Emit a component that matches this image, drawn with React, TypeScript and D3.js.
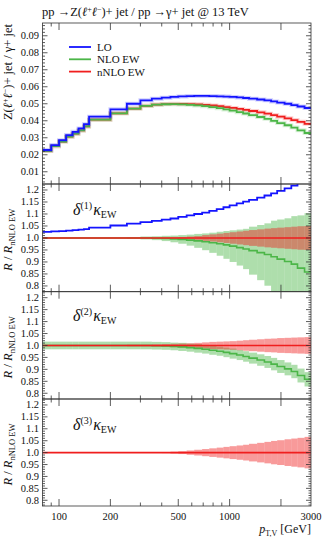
import React from 'react';
import * as d3 from 'd3';

// bin edges in pT,V [GeV]
const edges = [80, 90, 100, 110, 120, 130, 140, 150, 200, 250, 300, 350, 400, 450, 500, 560, 620, 690, 760, 840, 920, 1000, 1100, 1200, 1300, 1450, 1600, 1750, 1900, 2100, 2300, 2500, 2750, 3000];

// Z+jet / gamma+jet ratio per bin
const lo = [0.0228, 0.0257, 0.0286, 0.0316, 0.0335, 0.0355, 0.0380, 0.0424, 0.0467, 0.0500, 0.0520, 0.0530, 0.0536, 0.0540, 0.0543, 0.0545, 0.0546, 0.0546, 0.0545, 0.0544, 0.0542, 0.0540, 0.0537, 0.0534, 0.0530, 0.0525, 0.0520, 0.0514, 0.0507, 0.0500, 0.0492, 0.0484, 0.0475];
const nlo = [0.02224, 0.02502, 0.0278, 0.03065, 0.03243, 0.0343, 0.03664, 0.04065, 0.04439, 0.04717, 0.04878, 0.04944, 0.04971, 0.04975, 0.04961, 0.04937, 0.04904, 0.04858, 0.04799, 0.0474, 0.04666, 0.04592, 0.04506, 0.04426, 0.04331, 0.04221, 0.04113, 0.03996, 0.03866, 0.03737, 0.03599, 0.0344, 0.0328];
const nnlo = [0.02224, 0.02502, 0.0278, 0.03065, 0.03243, 0.0343, 0.03664, 0.04065, 0.04439, 0.04717, 0.04878, 0.04949, 0.04981, 0.04995, 0.04991, 0.04982, 0.04964, 0.04937, 0.04897, 0.04857, 0.04805, 0.04754, 0.04694, 0.04639, 0.04573, 0.04495, 0.04418, 0.04334, 0.04239, 0.04143, 0.04039, 0.03935, 0.03821];

// half-widths of the uncertainty bands in the ratio panels
const band1Nlo = [0.002, 0.002, 0.002, 0.002, 0.002, 0.002, 0.002, 0.002, 0.002, 0.004, 0.006, 0.008, 0.011, 0.014, 0.018, 0.023, 0.029, 0.035, 0.042, 0.05, 0.058, 0.066, 0.075, 0.084, 0.1, 0.115, 0.13, 0.15, 0.165, 0.18, 0.2, 0.22, 0.245];
const band1Nnlo = [0.001, 0.001, 0.001, 0.001, 0.001, 0.001, 0.001, 0.001, 0.001, 0.001, 0.001, 0.001, 0.002, 0.003, 0.004, 0.006, 0.008, 0.012, 0.015, 0.018, 0.021, 0.024, 0.027, 0.03, 0.033, 0.036, 0.039, 0.041, 0.043, 0.045, 0.047, 0.049, 0.05];
const band2Nlo = [0.016, 0.016, 0.016, 0.016, 0.016, 0.016, 0.016, 0.016, 0.016, 0.016, 0.016, 0.016, 0.016, 0.016, 0.017, 0.017, 0.018, 0.018, 0.019, 0.019, 0.02, 0.021, 0.021, 0.022, 0.023, 0.024, 0.025, 0.026, 0.027, 0.027, 0.028, 0.029, 0.03];
const band2Nnlo = [0.003, 0.003, 0.003, 0.003, 0.003, 0.003, 0.003, 0.003, 0.003, 0.004, 0.004, 0.005, 0.006, 0.007, 0.008, 0.009, 0.011, 0.013, 0.015, 0.016, 0.017, 0.018, 0.02, 0.022, 0.024, 0.026, 0.028, 0.029, 0.031, 0.032, 0.033, 0.034, 0.035];
const band3Nnlo = [0.001, 0.001, 0.001, 0.001, 0.001, 0.001, 0.001, 0.001, 0.001, 0.001, 0.001, 0.001, 0.002, 0.004, 0.006, 0.009, 0.012, 0.015, 0.018, 0.021, 0.024, 0.027, 0.03, 0.033, 0.037, 0.041, 0.045, 0.049, 0.052, 0.056, 0.059, 0.062, 0.066];

const mainTicks = [0.01, 0.02, 0.03, 0.04, 0.05, 0.06, 0.07, 0.08, 0.09];
const ratioTicks = [0.8, 0.85, 0.9, 0.95, 1.0, 1.05, 1.1, 1.15, 1.2];
const ratioLabels = ['0.8', '0.85', '0.9', '0.95', '1.0', '1.05', '1.1', '1.15', '1.2'];
const xMajor = [100, 200, 500, 1000, 2000];
const xMinor = [90, 300, 400, 600, 700, 800, 900];
const xLabels = [100, 200, 500, 1000, 3000];

const BLUE = '#1414ff';
const GREEN = '#4cb648';
const RED = '#f01e1e';
const FONT = 'Liberation Serif, serif';

const X0 = 42.5, X1 = 311;
const x = d3.scaleLog().domain([80, 3000]).range([X0, X1]);
const yMain = d3.scaleLinear().domain([0.0028, 0.0975]).range([184, 23]);
const ratioY = (top: number, bot: number) => d3.scaleLinear().domain([0.776, 1.225]).range([bot, top]);

const stepPath = (vals: number[], y: (v: number) => number) => {
  const pts: [number, number][] = vals.map((v, i) => [x(edges[i]), y(v)]);
  pts.push([x(edges[edges.length - 1]), y(vals[vals.length - 1])]);
  return d3.line().curve(d3.curveStepAfter)(pts) || '';
};

function Band({ center, hw, y, color, op }: any) {
  return (
    <g fill={color} fillOpacity={op}>
      {hw.map((h: number, i: number) => {
        const c = center[i];
        return <rect key={i} x={x(edges[i])} width={x(edges[i + 1]) - x(edges[i])}
          y={y(c + h)} height={y(c - h) - y(c + h)} />;
      })}
    </g>
  );
}

function Frame({ top, bot, y, major, minor, labels }: any) {
  const col = '#333';
  return (
    <g stroke={col} strokeWidth={0.8}>
      <rect x={X0} y={top} width={X1 - X0} height={bot - top} fill="none" />
      {xMajor.map(v => <g key={'M' + v}>
        <line x1={x(v)} x2={x(v)} y1={top} y2={top + 7} />
        <line x1={x(v)} x2={x(v)} y1={bot} y2={bot - 7} />
      </g>)}
      {xMinor.map(v => <g key={'m' + v}>
        <line x1={x(v)} x2={x(v)} y1={top} y2={top + 3.5} />
        <line x1={x(v)} x2={x(v)} y1={bot} y2={bot - 3.5} />
      </g>)}
      {major.map((v: number) => <g key={'yM' + v}>
        <line x1={X0} x2={X0 + 5} y1={y(v)} y2={y(v)} />
        <line x1={X1} x2={X1 - 5} y1={y(v)} y2={y(v)} />
      </g>)}
      {minor.map((v: number, i: number) => <g key={'ym' + i}>
        <line x1={X0} x2={X0 + 2.5} y1={y(v)} y2={y(v)} />
        <line x1={X1} x2={X1 - 2.5} y1={y(v)} y2={y(v)} />
      </g>)}
      <g stroke="none" fill="#111" fontFamily={FONT} fontSize={10.5} textAnchor="end">
        {major.map((v: number, i: number) => <text key={'l' + i} x={39} y={y(v)} dy="0.33em">{labels[i]}</text>)}
      </g>
    </g>
  );
}

function DeltaLabel({ n, yb }: { n: number; yb: number }) {
  return (
    <text x={73} y={yb} fontFamily={FONT} fontSize={16} fill="#111">
      <tspan fontStyle="italic">δ</tspan>
      <tspan fontSize={10} dy={-6}>({n})</tspan>
      <tspan fontStyle="italic" dy={6} dx={1}>κ</tspan>
      <tspan fontSize={10} dy={3}>EW</tspan>
    </text>
  );
}

function RatioYLabel({ top, bot }: { top: number; bot: number }) {
  const cy = (top + bot) / 2 + 2;
  return (
    <text transform={`translate(12,${cy}) rotate(-90)`} textAnchor="middle" fontFamily={FONT} fontSize={12.5} fill="#111">
      <tspan fontStyle="italic">R</tspan> / <tspan fontStyle="italic">R</tspan>
      <tspan fontSize={8.5} dy={2.5}>nNLO EW</tspan>
    </text>
  );
}

export default function App() {
  const P1 = [184, 291.7], P2 = [291.7, 399], P3 = [399, 506];
  const y1 = ratioY(P1[0], P1[1]);
  const y2 = ratioY(P2[0], P2[1]);
  const y3 = ratioY(P3[0], P3[1]);
  const rLo = lo.map((v, i) => v / nnlo[i]);
  const rNlo = nlo.map((v, i) => v / nnlo[i]);
  const ones = nnlo.map(() => 1);

  const mainMinor = d3.range(0.004, 0.0975, 0.002).filter(v => Math.abs(v * 100 - Math.round(v * 100)) > 1e-6);
  const ratioMinor = d3.range(0.78, 1.225, 0.01).filter(v => Math.abs(v * 20 - Math.round(v * 20)) > 1e-6);

  const legend = [['LO', BLUE], ['NLO EW', GREEN], ['nNLO EW', RED]];

  return (
    <svg width={324} height={540} style={{ position: 'absolute', left: 0, top: 0, background: '#fff' }}>
      <defs>
        {[[23, 184], P1, P2, P3].map((p, i) => (
          <clipPath id={'c' + i} key={i}><rect x={X0} y={p[0]} width={X1 - X0} height={p[1] - p[0]} /></clipPath>
        ))}
      </defs>

      <text x={42} y={15.5} fontFamily={FONT} fontSize={12.5} fill="#111">
        pp →Z(<tspan fontStyle="italic">ℓ</tspan><tspan fontSize={8} dy={-4}>+</tspan>
        <tspan fontStyle="italic" dy={4}>ℓ</tspan><tspan fontSize={8} dy={-4}>−</tspan>
        <tspan dy={4}>)+ jet / pp →γ+ jet @ 13 TeV</tspan>
      </text>

      {/* main panel */}
      <g clipPath="url(#c0)" fill="none">
        <path d={stepPath(nnlo, yMain)} stroke={RED} strokeWidth={4} strokeOpacity={0.2} />
        <path d={stepPath(nnlo, yMain)} stroke={RED} strokeWidth={1.8} />
        <path d={stepPath(nlo, yMain)} stroke={GREEN} strokeWidth={4} strokeOpacity={0.2} />
        <path d={stepPath(nlo, yMain)} stroke={GREEN} strokeWidth={1.8} />
        <path d={stepPath(lo, yMain)} stroke={BLUE} strokeWidth={4} strokeOpacity={0.2} />
        <path d={stepPath(lo, yMain)} stroke={BLUE} strokeWidth={1.8} />
      </g>
      <Frame top={23} bot={184} y={yMain} major={mainTicks} minor={mainMinor} labels={mainTicks.map(v => v.toFixed(2))} />
      <text transform="translate(12,24) rotate(-90)" textAnchor="end" fontFamily={FONT} fontSize={12.5} fill="#111">
        Z(<tspan fontStyle="italic">ℓ</tspan><tspan fontSize={8} dy={-4}>+</tspan>
        <tspan fontStyle="italic" dy={4}>ℓ</tspan><tspan fontSize={8} dy={-4}>−</tspan>
        <tspan dy={4}>)+ jet / γ+ jet</tspan>
      </text>
      {legend.map(([name, col], i) => (
        <g key={name}>
          <line x1={69} x2={91} y1={47 + i * 12.3} y2={47 + i * 12.3} stroke={col} strokeWidth={1.8} />
          <text x={97} y={47 + i * 12.3 + 4} fontFamily={FONT} fontSize={11} fill="#111">{name}</text>
        </g>
      ))}

      {/* ratio panel 1 */}
      <g clipPath="url(#c1)" fill="none">
        <Band center={rNlo} hw={band1Nlo} y={y1} color={GREEN} op={0.45} />
        <Band center={ones} hw={band1Nnlo} y={y1} color={RED} op={0.45} />
        <path d={stepPath(rNlo, y1)} stroke={GREEN} strokeWidth={1.6} />
        <path d={stepPath(ones, y1)} stroke={RED} strokeWidth={1.6} />
        <path d={stepPath(rLo, y1)} stroke={BLUE} strokeWidth={1.8} />
      </g>
      <Frame top={P1[0]} bot={P1[1]} y={y1} major={ratioTicks} minor={ratioMinor} labels={ratioLabels} />
      <RatioYLabel top={P1[0]} bot={P1[1]} />
      <DeltaLabel n={1} yb={215} />

      {/* ratio panel 2 */}
      <g clipPath="url(#c2)" fill="none">
        <Band center={rNlo} hw={band2Nlo} y={y2} color={GREEN} op={0.45} />
        <Band center={ones} hw={band2Nnlo} y={y2} color={RED} op={0.45} />
        <path d={stepPath(rNlo, y2)} stroke={GREEN} strokeWidth={1.6} />
        <path d={stepPath(ones, y2)} stroke={RED} strokeWidth={1.6} />
      </g>
      <Frame top={P2[0]} bot={P2[1]} y={y2} major={ratioTicks} minor={ratioMinor} labels={ratioLabels} />
      <RatioYLabel top={P2[0]} bot={P2[1]} />
      <DeltaLabel n={2} yb={321} />

      {/* ratio panel 3 */}
      <g clipPath="url(#c3)" fill="none">
        <Band center={ones} hw={band3Nnlo} y={y3} color={RED} op={0.45} />
        <path d={stepPath(ones, y3)} stroke={RED} strokeWidth={1.6} />
      </g>
      <Frame top={P3[0]} bot={P3[1]} y={y3} major={ratioTicks} minor={ratioMinor} labels={ratioLabels} />
      <RatioYLabel top={P3[0]} bot={P3[1]} />
      <DeltaLabel n={3} yb={430} />

      <g fontFamily={FONT} fontSize={10.5} fill="#111" textAnchor="middle">
        {xLabels.map(v => <text key={v} x={x(v)} y={520}>{v}</text>)}
      </g>
      <text x={311} y={533} textAnchor="end" fontFamily={FONT} fontSize={12} fill="#111">
        <tspan fontStyle="italic">p</tspan><tspan fontSize={8} dy={2.5}>T,V</tspan>
        <tspan dy={-2.5}> [GeV]</tspan>
      </text>
    </svg>
  );
}
